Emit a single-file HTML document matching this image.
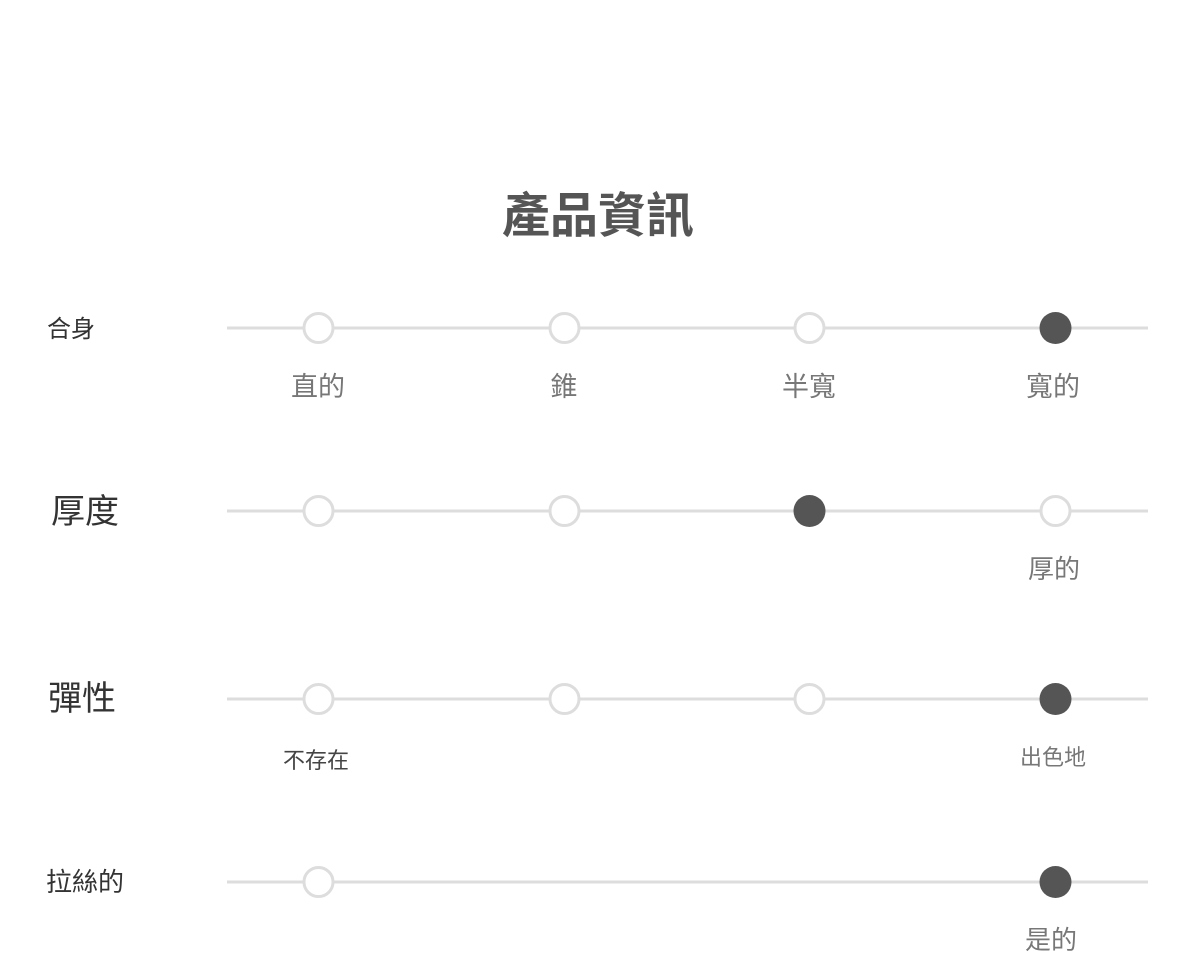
<!DOCTYPE html>
<html><head><meta charset="utf-8"><style>
html,body{margin:0;padding:0;background:#fff;width:1200px;height:959px;overflow:hidden}
svg{display:block}
text{font-family:"Liberation Sans","Noto Sans CJK TC",sans-serif}
</style></head><body>
<svg width="1200" height="959" viewBox="0 0 1200 959" xmlns="http://www.w3.org/2000/svg">
<text x="598" y="232" text-anchor="middle" font-size="48" font-weight="bold" fill="#555">產品資訊</text>

<g stroke="#ddd" stroke-width="3">
<line x1="227" y1="328" x2="1148" y2="328"/>
<line x1="227" y1="511" x2="1148" y2="511"/>
<line x1="227" y1="699" x2="1148" y2="699"/>
<line x1="227" y1="882" x2="1148" y2="882"/>
</g>
<g stroke="#ddd" stroke-width="3" fill="#fff">
<circle cx="318.5" cy="328" r="14.5"/><circle cx="564.5" cy="328" r="14.5"/><circle cx="809.5" cy="328" r="14.5"/>
<circle cx="318.5" cy="511" r="14.5"/><circle cx="564.5" cy="511" r="14.5"/><circle cx="1055.5" cy="511" r="14.5"/>
<circle cx="318.5" cy="699" r="14.5"/><circle cx="564.5" cy="699" r="14.5"/><circle cx="809.5" cy="699" r="14.5"/>
<circle cx="318.5" cy="882" r="14.5"/>
</g>
<g fill="#555">
<circle cx="1055.5" cy="328" r="16"/><circle cx="809.5" cy="511" r="16"/><circle cx="1055.5" cy="699" r="16"/><circle cx="1055.5" cy="882" r="16"/>
</g>

<g fill="#333">
<text x="47" y="337" font-size="24">合身</text>
<text x="51" y="523" font-size="34">厚度</text>
<text x="48" y="710" font-size="34">彈性</text>
<text x="46" y="891" font-size="26">拉絲的</text>
</g>
<g fill="#777" text-anchor="middle">
<text x="318" y="396" font-size="27">直的</text>
<text x="564" y="396" font-size="27">錐</text>
<text x="809" y="396" font-size="27">半寬</text>
<text x="1053" y="396" font-size="27">寬的</text>
<text x="1054" y="578" font-size="26">厚的</text>
<text x="316" y="768" font-size="22" fill="#444">不存在</text>
<text x="1053" y="765" font-size="22">出色地</text>
<text x="1051" y="949" font-size="26">是的</text>
</g>
</svg>
</body></html>
